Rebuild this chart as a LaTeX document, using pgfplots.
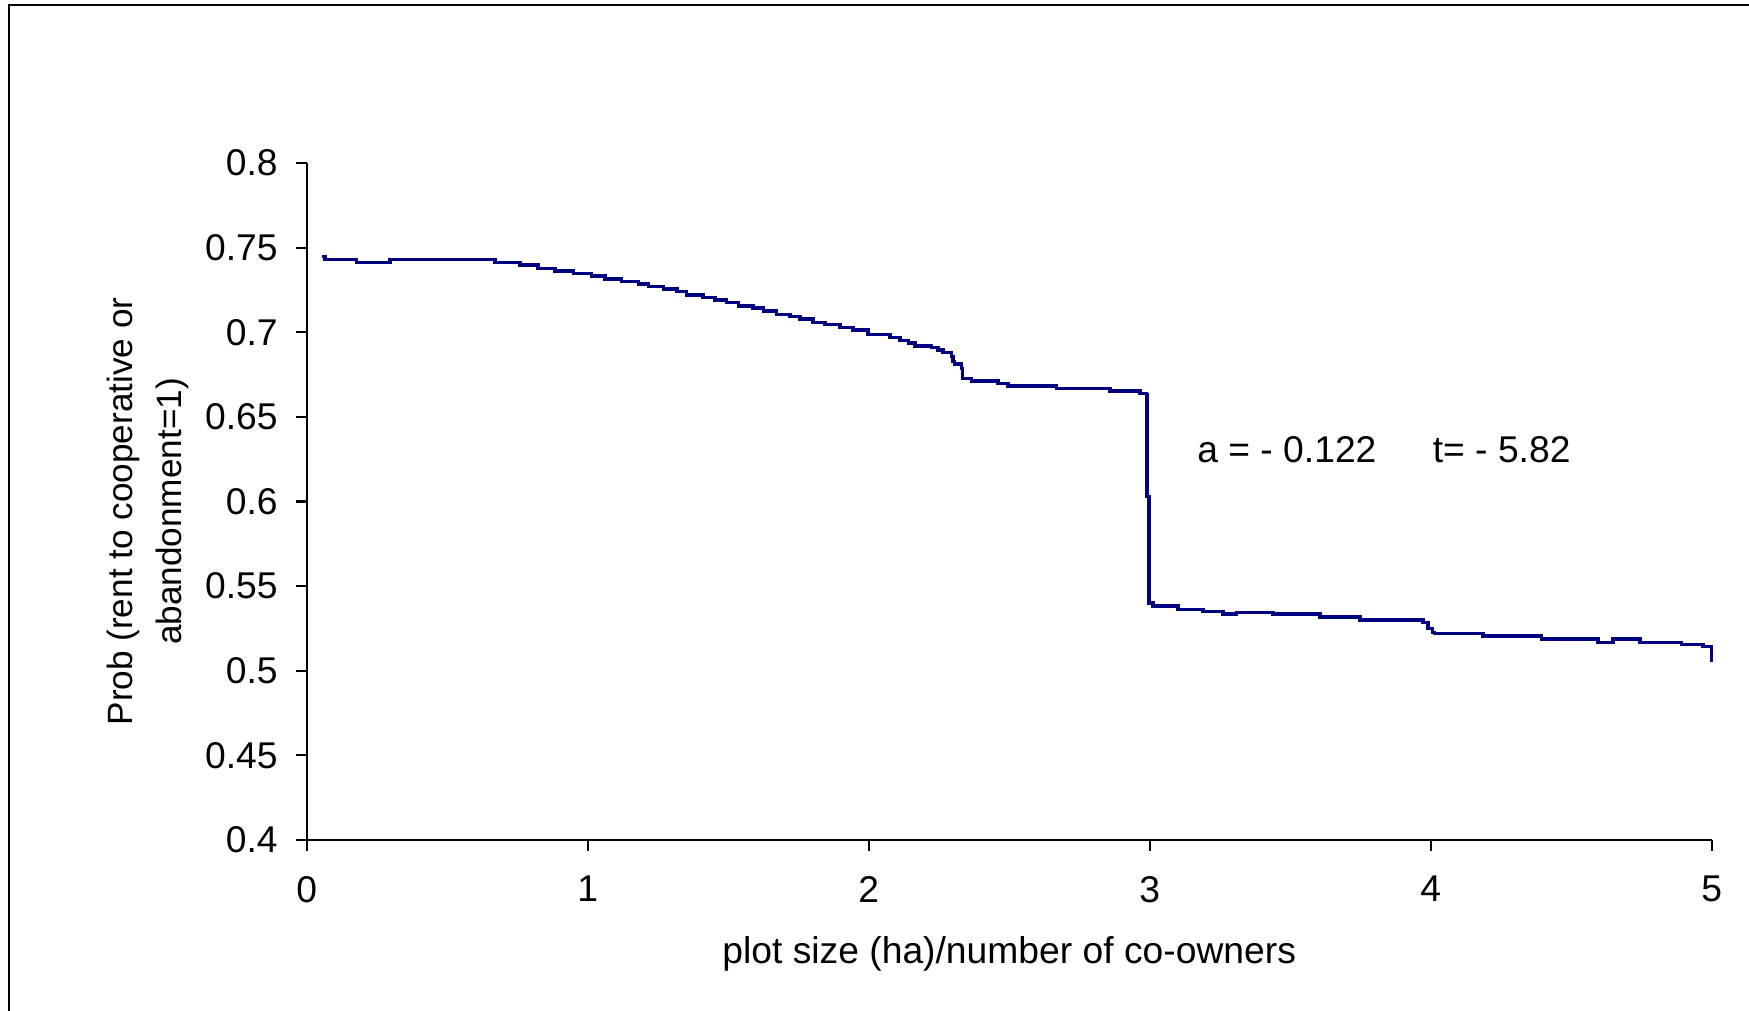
\documentclass[border=0pt]{standalone}
\usepackage{fontspec}
\setmainfont{Liberation Sans}
\usepackage{pgfplots}
\pgfplotsset{compat=1.18}
\definecolor{navyline}{HTML}{000080}

\begin{document}
\fontsize{10.6}{12.7}\selectfont
\begin{tikzpicture}
\useasboundingbox (0,0) rectangle (17.49cm,10.11cm);
% outer chart frame, right and bottom edges fall outside the picture
\draw[line width=0.8pt] (0.09cm,-0.5cm) -- (0.09cm,10.06cm) -- (18cm,10.06cm);
\begin{axis}[
    at={(3.067cm,1.71cm)}, anchor=south west,
    scale only axis, width=14.05cm, height=6.77cm,
    xmin=0, xmax=5, ymin=0.4, ymax=0.8,
    xtick={0,1,2,3,4,5},
    ytick={0.4,0.45,0.5,0.55,0.6,0.65,0.7,0.75,0.8},
    axis x line=bottom, axis y line=left,
    axis line style={-, line width=0.6pt},
    tick style={line width=0.6pt, black},
    tick align=outside, major tick length=0.11cm,
    /pgf/number format/assume math mode=true,
    ticklabel style={font=\fontsize{10.6}{12.7}\selectfont},
    xticklabel style={yshift=-0.12cm},
    yticklabel style={xshift=-0.05cm},
    xlabel={plot size (ha)/number of co-owners},
    xlabel style={at={(axis description cs:0.5,0)}, anchor=center, yshift=-1.14cm},
    ylabel={Prob (rent to cooperative or\\abandonment=1)},
    ylabel style={at={(axis description cs:0,0.5)}, anchor=center, yshift=1.587cm, xshift=-0.1cm, align=center, font=\fontsize{10}{14}\selectfont},
    clip=false,
  ]
  \addplot[const plot, color=navyline, line width=1pt] coordinates {
    (0.053,0.7447) (0.065,0.7431) (0.178,0.7411) (0.296,0.7431) (0.670,0.7411)
    (0.759,0.7396) (0.824,0.7378) (0.883,0.7362) (0.949,0.7348) (1.014,0.7332)
    (1.061,0.7314) (1.121,0.7299) (1.180,0.7285) (1.216,0.7269) (1.269,0.7254)
    (1.317,0.7240) (1.352,0.7220) (1.411,0.7204) (1.453,0.7191) (1.494,0.7175)
    (1.536,0.7155) (1.589,0.7142) (1.625,0.7127) (1.672,0.7106) (1.720,0.7092)
    (1.755,0.7078) (1.802,0.7059) (1.844,0.7046) (1.897,0.7029) (1.945,0.7013)
    (1.998,0.6988) (2.075,0.6968) (2.111,0.6950) (2.141,0.6935) (2.164,0.6920)
    (2.224,0.6909) (2.247,0.6895) (2.265,0.6880) (2.295,0.6856) (2.300,0.6826)
    (2.306,0.6813) (2.330,0.6787) (2.334,0.6728) (2.366,0.6712) (2.461,0.6698)
    (2.496,0.6683) (2.668,0.6669) (2.858,0.6653) (2.965,0.6639) (2.988,0.6630)
    (2.990,0.6030) (2.997,0.5830) (2.998,0.5399) (3.012,0.5383) (3.101,0.5363)
    (3.190,0.5349) (3.261,0.5334) (3.309,0.5345) (3.439,0.5334) (3.606,0.5316)
    (3.748,0.5300) (3.972,0.5284) (3.990,0.5251) (4.007,0.5225) (4.014,0.5221)
    (4.186,0.5205) (4.394,0.5188) (4.595,0.5168) (4.649,0.5188) (4.744,0.5168)
    (4.892,0.5156) (4.969,0.5142) (4.999,0.5054)
  };
  \node[anchor=base west, inner sep=0pt] at (axis cs:3.167,0.6228) {a = - 0.122};
  \node[anchor=base west, inner sep=0pt] at (axis cs:4.005,0.6228) {t= - 5.82};
\end{axis}
\end{tikzpicture}
\end{document}
